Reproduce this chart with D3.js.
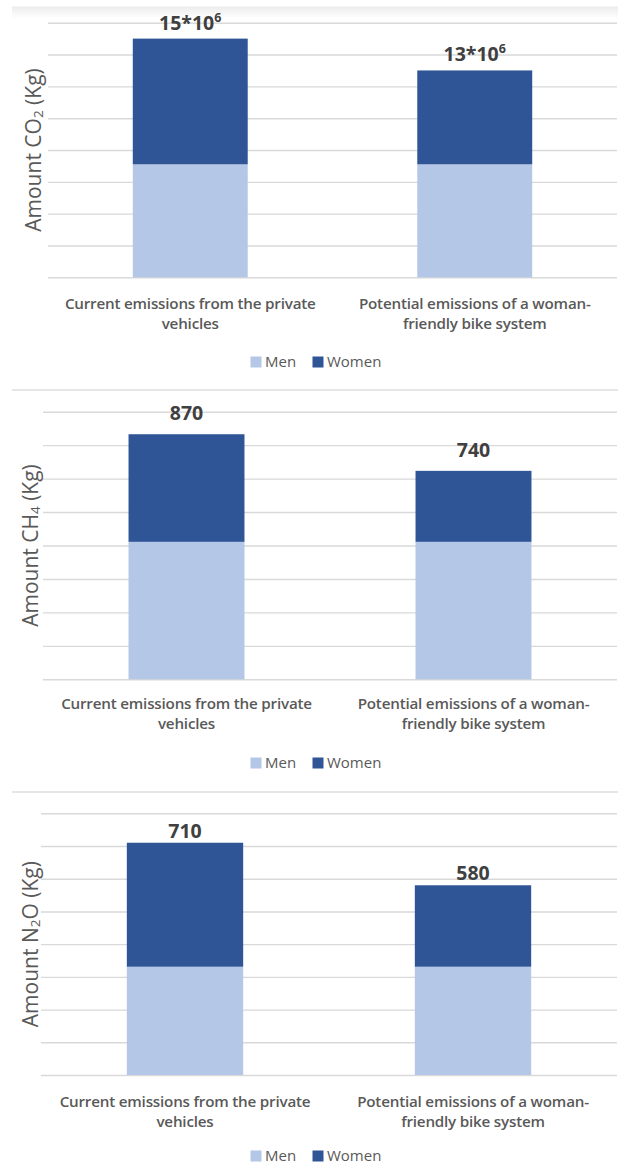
<!DOCTYPE html>
<html>
<head>
<meta charset="utf-8">
<script src="https://cdn.jsdelivr.net/npm/d3@7"></script>
<style>
  html, body { margin: 0; padding: 0; background: #fff; }
  svg { display: block; font-family: "Open Sans", "Noto Sans", sans-serif; }
</style>
</head>
<body>
<svg id="chart" width="618" height="1166"></svg>
<script>
// Categories (two lines each on the x axis)
const categories = ["current", "potential"];
const categoryLines = [
  ["Current emissions from the private", "vehicles"],
  ["Potential emissions of a woman-", "friendly bike system"]
];
const seriesNames = ["Men", "Women"];
const seriesColors = ["#b4c7e7", "#2f5597"];

// CO2 emissions, in 10^6 kg
const co2Men = [7.1, 7.1];
const co2Women = [7.9, 5.9];
const co2Labels = [["15*10", "6"], ["13*10", "6"]];
const co2AxisMax = 16;

// CH4 emissions, kg
const ch4Men = [488, 488];
const ch4Women = [382, 252];
const ch4Labels = [["870", ""], ["740", ""]];
const ch4AxisMax = 950;

// N2O emissions, kg
const n2oMen = [331, 331];
const n2oWomen = [379, 249];
const n2oLabels = [["710", ""], ["580", ""]];
const n2oAxisMax = 800;

const svg = d3.select("#chart");
const gridCount = 8;

const panels = [
  { men: co2Men, women: co2Women, labels: co2Labels, max: co2AxisMax,
    title: ["Amount CO", "2", " (Kg)"],
    top: 22.7, bottom: 277.3, left: 48, right: 617, titleX: 33,
    labelGap: 9, catY: 309, legendY: 362, frame: "shade", frameY: 6.5 },
  { men: ch4Men, women: ch4Women, labels: ch4Labels, max: ch4AxisMax,
    title: ["Amount CH", "4", " (Kg)"],
    top: 411.7, bottom: 679.3, left: 43, right: 617, titleX: 30,
    labelGap: 14, catY: 709, legendY: 763, frame: "line", frameY: 390 },
  { men: n2oMen, women: n2oWomen, labels: n2oLabels, max: n2oAxisMax,
    title: ["Amount N", "2", "O (Kg)"],
    top: 813.3, bottom: 1075, left: 41, right: 617, titleX: 30,
    labelGap: 5, catY: 1107, legendY: 1156, frame: "line", frameY: 792 }
];

// soft shading at the top edge of the first panel
const defs = svg.append("defs");
const grad = defs.append("linearGradient").attr("id", "topShade")
  .attr("x1", 0).attr("y1", 0).attr("x2", 0).attr("y2", 1);
grad.append("stop").attr("offset", "0%").attr("stop-color", "#ececec");
grad.append("stop").attr("offset", "100%").attr("stop-color", "#ffffff");

panels.forEach(p => {
  const g = svg.append("g");

  if (p.frame === "shade") {
    g.append("rect").attr("x", 12).attr("y", p.frameY).attr("width", 606).attr("height", 12)
      .attr("fill", "url(#topShade)");
  } else {
    g.append("line").attr("x1", 12).attr("x2", 618).attr("y1", p.frameY).attr("y2", p.frameY)
      .attr("stroke", "#dedede").attr("stroke-width", 1.4);
  }

  const y = d3.scaleLinear().domain([0, p.max]).range([p.bottom, p.top]);
  const x = d3.scaleBand().domain(categories).range([p.left, p.right])
    .paddingInner(0.596).paddingOuter(0.298);

  // horizontal gridlines
  const gridValues = d3.range(gridCount + 1).map(i => p.max * i / gridCount);
  const yAxis = d3.axisLeft(y).tickValues(gridValues).tickSize(-(p.right - p.left)).tickFormat("");
  const ga = g.append("g").attr("transform", `translate(${p.left},0)`).call(yAxis);
  ga.select(".domain").remove();
  ga.selectAll(".tick line").attr("stroke", "#d9d9d9").attr("stroke-width", 1.4);

  // stacked bars
  const rows = categories.map((c, i) => ({ cat: c, Men: p.men[i], Women: p.women[i] }));
  const stacked = d3.stack().keys(seriesNames)(rows);
  g.append("g").selectAll("g").data(stacked).join("g")
    .attr("fill", (d, i) => seriesColors[i])
    .selectAll("rect").data(d => d).join("rect")
    .attr("x", d => x(d.data.cat))
    .attr("width", x.bandwidth())
    .attr("y", d => y(d[1]))
    .attr("height", d => y(d[0]) - y(d[1]));

  // total labels
  const totals = rows.map(r => r.Men + r.Women);
  const lbl = g.append("g").selectAll("text").data(categories).join("text")
    .attr("x", c => x(c) + x.bandwidth() / 2)
    .attr("y", (c, i) => y(totals[i]) - p.labelGap)
    .attr("text-anchor", "middle")
    .attr("font-size", 19.5).attr("font-weight", 700).attr("fill", "#404040");
  lbl.append("tspan").text((c, i) => p.labels[i][0]);
  lbl.append("tspan").attr("font-size", 12.5).attr("dy", -8).text((c, i) => p.labels[i][1]);

  // category labels
  const cat = g.append("g").selectAll("text").data(categories).join("text")
    .attr("text-anchor", "middle")
    .attr("font-size", 15.2).attr("font-weight", 600).attr("fill", "#595959")
    .attr("letter-spacing", -0.2);
  cat.each(function (c, i) {
    const t = d3.select(this);
    categoryLines[i].forEach((line, k) => {
      t.append("tspan").attr("x", x(c) + x.bandwidth() / 2).attr("y", p.catY + k * 19.5).text(line);
    });
  });

  // axis title
  const midY = (p.top + p.bottom) / 2;
  const title = g.append("text")
    .attr("transform", `translate(${p.titleX},${midY}) rotate(-90)`)
    .attr("text-anchor", "middle").attr("dominant-baseline", "central")
    .attr("font-size", 21).attr("fill", "#595959");
  title.append("tspan").text(p.title[0]);
  title.append("tspan").attr("font-size", 13.5).attr("dy", 5).text(p.title[1]);
  title.append("tspan").attr("dy", -5).text(p.title[2]);

  // legend
  const legendX = [250.5, 312.5];
  const lg = g.append("g").selectAll("g").data(seriesNames).join("g")
    .attr("transform", (d, i) => `translate(${legendX[i]},${p.legendY})`);
  lg.append("rect").attr("x", 0).attr("y", -5.5).attr("width", 11).attr("height", 11)
    .attr("fill", (d, i) => seriesColors[i]);
  lg.append("text").attr("x", 14.5).attr("y", 5).attr("font-size", 15).attr("fill", "#595959")
    .text(d => d);
});
</script>
</body>
</html>
